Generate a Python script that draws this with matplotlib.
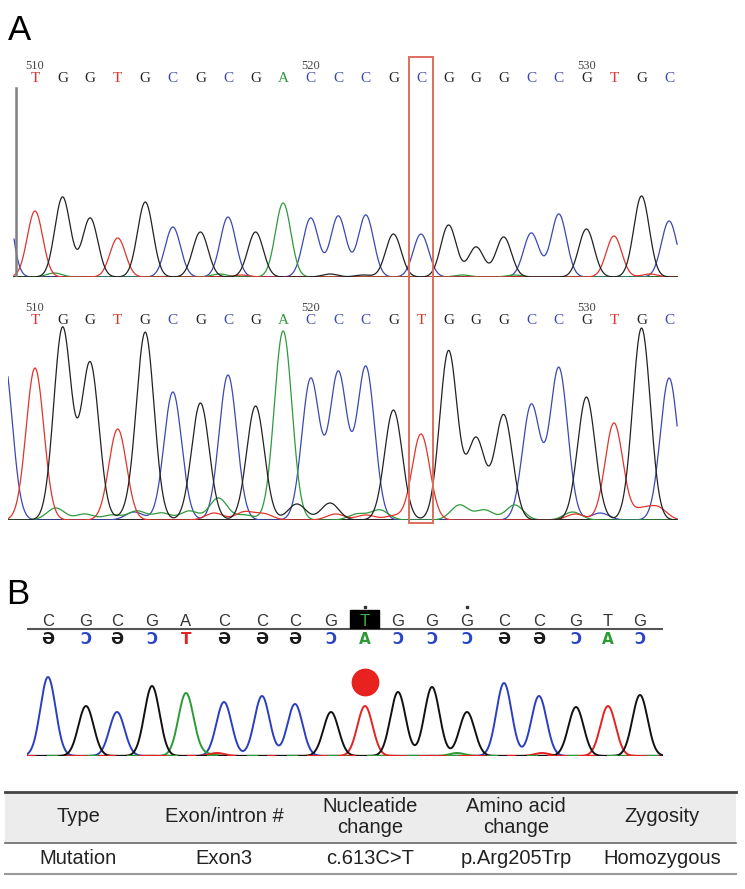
import numpy as np
import matplotlib
matplotlib.use('Agg')
import matplotlib.pyplot as plt
from matplotlib.patches import Rectangle
from matplotlib.transforms import blended_transform_factory

# Panel A: reference (top) and patient (bottom) chromatograms, bases 510-533
a_first_base = 510
a_ref_seq = list('TGGTGCGCGACCCGCGGGCCGTGC')
a_pat_seq = list('TGGTGCGCGACCCGTGGGCCGTGC')
a_ref_heights = [66, 80, 59, 39, 75, 50, 45, 60, 45, 74, 59, 61, 62, 43, 43, 52, 30, 40, 44, 63, 48, 41, 81, 56]
a_pat_heights = [152, 192, 157, 91, 187, 128, 117, 145, 114, 189, 141, 147, 153, 110, 86, 169, 81, 105, 115, 152, 123, 97, 192, 142]

# minor / background signals: (base position, height)
a_ref_minor = {
    'C': [(508.85, 100)],
    'A': [(510.7, 4), (516.7, 3), (525.5, 2), (527.4, 2)],
    'G': [(520.7, 3), (521.9, 2)],
    'T': [(517.5, 2), (532.3, 3)],
}
a_pat_minor = {
    'C': [(508.85, 165), (513.6, 8), (530.5, 7)],
    'A': [(510.75, 12), (511.8, 6), (512.8, 5), (513.7, 9), (514.6, 7), (515.6, 9),
          (516.65, 22), (517.6, 5), (521.7, 6), (522.5, 10), (525.4, 15), (526.3, 10),
          (527.4, 15), (529.5, 8)],
    'G': [(513.4, 5), (519.5, 16), (520.7, 17)],
    'T': [(516.5, 7), (517.6, 8), (518.3, 6), (520.9, 6), (522.0, 5), (523.0, 4),
          (529.6, 6), (532.0, 10), (532.6, 12)],
}

# Panel B: patient trace, scan positions and heights of called peaks
b_seq = list('CGCGACCCGTGGGCCGTG')
b_scan = [21, 59, 90, 125, 159, 197, 235, 268, 304, 338, 371, 405, 440, 477, 512, 549, 581, 613]
b_heights = [79, 50, 44, 70, 63, 54, 60, 52, 44, 50, 64, 69, 44, 73, 60, 49, 50, 61]
b_minor = {'T': [(190, 3), (515, 3)], 'A': [(180, 2), (430, 3)], 'C': [], 'G': []}
b_mutation = 9
b_dotted = [9, 12]
b_complement = {'C': 'Ə', 'G': 'Ɔ', 'A': 'T', 'T': 'A'}

table_header = ['Type', 'Exon/intron #', 'Nucleatide\nchange', 'Amino acid\nchange', 'Zygosity']
table_row = ['Mutation', 'Exon3', 'c.613C>T', 'p.Arg205Trp', 'Homozygous']

a_colors = {'A': '#2f9a3c', 'C': '#3b48b0', 'G': '#222222', 'T': '#e0342c'}
b_colors = {'A': '#2c9a35', 'C': '#2a3fbf', 'G': '#111111', 'T': '#e42222'}
b_comp_colors = {'C': '#1a1a1a', 'G': '#2a44c8', 'A': '#e42222', 'T': '#2c9a35'}

plt.rcParams['font.family'] = ['Liberation Sans', 'DejaVu Sans']

W, H = 745, 889
fig = plt.figure(figsize=(W / 100, H / 100), dpi=100)


def px_axes(x0, y0, x1, y1):
    ax = fig.add_axes([x0 / W, 1 - y1 / H, (x1 - x0) / W, (y1 - y0) / H])
    ax.patch.set_visible(False)
    ax.set_axis_off()
    return ax


def trace(x, peaks, sigma):
    y = np.zeros_like(x)
    for c, h in peaks:
        y += h * np.exp(-0.5 * ((x - c) / sigma) ** 2)
    return y


# background axes in pixel units for labels and table
bg = fig.add_axes([0, 0, 1, 1])
bg.set_xlim(0, W)
bg.set_ylim(H, 0)
bg.set_axis_off()
bg.text(8, 31, 'A', fontsize=25, va='center', ha='left')
bg.text(6, 595, 'B', fontsize=25, va='center', ha='left')


def draw_a(ax, seq, heights, minor, sigma, xstart, ylet):
    ax.set_xlim(509.021, 533.322)
    x = np.linspace(xstart, 533.29, 3000)
    bases = np.arange(len(seq)) + a_first_base
    ax.plot([xstart, 533.29], [0, 0], color='#2a2020', lw=1.4, zorder=1)
    for b in ['C', 'A', 'T', 'G']:
        peaks = [(p, h) for p, s, h in zip(bases, seq, heights) if s == b]
        peaks += minor.get(b, [])
        ax.plot(x, trace(x, peaks, sigma), color=a_colors[b], lw=0.9, zorder=2)
    for p, s in zip(bases, seq):
        ax.text(p, ylet, s, color=a_colors[s], ha='center', va='center',
                family='Liberation Serif', fontsize=11)
        if p % 10 == 0:
            ax.text(p, ylet + 12, str(p), color='#444444', ha='center', va='center',
                    family='Liberation Serif', fontsize=9)


ax_ref = px_axes(8, 40, 678, 277)
ax_ref.set_ylim(0, 237)
draw_a(ax_ref, a_ref_seq, a_ref_heights, a_ref_minor, 0.28, 509.24, 199)
ax_ref.plot([509.31, 509.31], [0, 189], color='#808080', lw=1.8)

ax_pat = px_axes(8, 290, 678, 520)
ax_pat.set_ylim(0, 230)
draw_a(ax_pat, a_pat_seq, a_pat_heights, a_pat_minor, 0.32, 509.02, 200)

# box around the changed base
mut = [i for i, (r, p) in enumerate(zip(a_ref_seq, a_pat_seq)) if r != p][0] + a_first_base
tr = blended_transform_factory(ax_ref.transData, fig.transFigure)
fig.add_artist(Rectangle((mut - 0.42, 1 - 523 / H), 0.84, (523 - 57) / H, transform=tr,
                         fill=False, edgecolor='#de6f5e', lw=1.4))

# Panel B
ax_b = px_axes(27, 600, 663, 756)
ax_b.set_xlim(0, 636)
ax_b.set_ylim(0, 156)
xb = np.linspace(0, 636, 3000)
ax_b.plot([0, 636], [0, 0], color='#111111', lw=1.6, zorder=1)
for b in ['C', 'A', 'T', 'G']:
    peaks = [(p, h) for p, s, h in zip(b_scan, b_seq, b_heights) if s == b] + b_minor[b]
    ax_b.plot(xb, trace(xb, peaks, 7.6), color=b_colors[b], lw=1.4, zorder=2)
ax_b.plot([0, 636], [0, 0], color=b_colors['T'], lw=1.6, linestyle=(0, (4, 14)), zorder=3)
ax_b.plot([0, 636], [0, 0], color=b_colors['A'], lw=1.6, linestyle=(9, (5, 13)), zorder=3)

ax_b.plot([0, 636], [127, 127], color='#555555', lw=1.5)
for i, (p, s) in enumerate(zip(b_scan, b_seq)):
    col = '#333333'
    if i == b_mutation:
        ax_b.add_patch(Rectangle((p - 15, 128), 29, 18, color='black', zorder=3))
        col = '#3cb04a'
    ax_b.text(p, 134.5, s, color=col, ha='center', va='center', fontsize=12, zorder=4)
    ax_b.text(p, 116, b_complement[s], color=b_comp_colors[s], ha='center', va='center',
              fontsize=11, fontweight='bold', family='DejaVu Sans')
for i in b_dotted:
    ax_b.plot(b_scan[i], 149, 's', color='#333333', ms=1.8, clip_on=False)
ax_b.plot(b_scan[b_mutation], 74, 'o', color='#e8231f', ms=19)

# table
cols = [78, 224, 370, 516, 662]
bg.fill_between([5, 736], 792, 843, color='#ececec', lw=0)
bg.plot([5, 736], [792, 792], color='#444444', lw=2)
bg.plot([5, 736], [843, 843], color='#666666', lw=1.2)
bg.plot([5, 736], [874, 874], color='#999999', lw=1.5)
for c, h, r in zip(cols, table_header, table_row):
    bg.text(c, 817, h, ha='center', va='center', fontsize=14.5, color='#222222', linespacing=1.1)
    bg.text(c, 859, r, ha='center', va='center', fontsize=14.5, color='#222222')

fig.savefig('out.png', dpi=100)
